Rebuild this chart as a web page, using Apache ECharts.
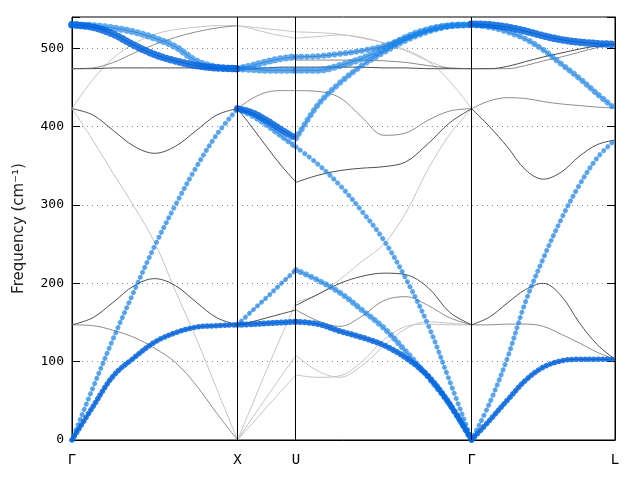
<!DOCTYPE html>
<html><head><meta charset="utf-8">
<script src="https://cdn.jsdelivr.net/npm/echarts@6/dist/echarts.min.js"></script>
<style>html,body{margin:0;padding:0;background:#fff}#c{width:640px;height:480px}</style>
</head><body><div id="c"></div>
<script>
// high-symmetry path (k-distance) and labels
const kLabels = ['Γ', 'X', 'U', 'Γ', 'L'];
const kTicks = [0, 1.0, 1.3536, 2.4142, 3.2802];
const yTicks = [0, 100, 200, 300, 400, 500];
// fractional sampling positions along a segment
const q9 = [0, .125, .25, .375, .5, .625, .75, .875, 1];
const q5 = [0, .25, .5, .75, 1];

// ---- Γ–X (cm^-1) ----
const gx_ta    = [0, 42, 82, 105, 125, 137, 144, 146, 147];
const gx_la    = [0, 66, 130, 190, 248, 300, 348, 390, 423];
const gx_f1    = [423, 383, 340, 298, 252, 190, 130, 65, 0];
const gx_f2    = [147, 146, 140, 131, 117, 99, 70, 34, 0];
const gx_o1    = [147, 156, 176, 197, 206, 197, 176, 156, 147];
const gx_o2    = [423, 415, 395, 375, 366, 375, 395, 415, 423];
const gx_o3    = [474, 474, 475, 475, 475, 475, 475, 474, 474];
const gx_o4    = [474, 475, 482, 494, 505, 514, 521, 526, 529];
const gx_o5    = [423, 460, 488, 506, 518, 524, 527, 529, 529];
const gx_t1    = [530, 527, 518, 504, 492, 484, 478, 475, 474];
const gx_t2    = [530, 529, 526, 521, 513, 502, 484, 476, 474];
// ---- X–U ----
const xu_a  = [0, 45, 90, 133, 176];
const xu_b  = [0, 28, 55, 82, 108];
const xu_c  = [0, 21, 42, 63, 83];
const xu_ta = [147, 148, 149, 150, 151];
const xu_d  = [147, 151, 156, 161, 166];
const xu_e  = [147, 165, 182, 200, 217];
const xu_f  = [423, 418, 408, 396, 385];
const xu_g  = [423, 414, 402, 388, 374];
const xu_h  = [423, 399, 374, 350, 329];
const xu_i  = [423, 436, 444, 446, 446];
const xu_j  = [474, 473, 472, 472, 472];
const xu_k  = [474, 474, 475, 476, 476];
const xu_l  = [474, 478, 483, 487, 489];
const xu_m  = [529, 527, 525, 523, 521];
const xu_n  = [529, 525, 520, 516, 513];
// ---- U–Γ ----
const ug_ta = [151, 148, 139, 131, 121, 105, 82, 46, 0];
const ug_b  = [217, 204, 188, 166, 143, 113, 81, 45, 0];
const ug_c  = [374, 352, 325, 292, 255, 206, 148, 75, 0];
const ug_d  = [385, 428, 456, 478, 495, 510, 521, 528, 530];
const ug_e  = [489, 490, 493, 497, 503, 513, 523, 529, 530];
const ug_f  = [472, 472, 478, 487, 499, 514, 524, 529, 530];
const ug_g  = [476, 476, 476, 476, 475, 475, 474, 474, 474];
const ug_h  = [485, 485, 485, 485, 484, 482, 478, 475, 474];
const ug_i  = [521, 520, 518, 513, 507, 498, 484, 458, 423];
const ug_j  = [513, 515, 517, 514, 507, 497, 484, 475, 474];
const ug_k  = [446, 445, 437, 412, 389, 392, 408, 420, 423];
const ug_l  = [329, 338, 344, 347, 349, 355, 378, 405, 423];
const ug_m  = [176, 186, 205, 228, 250, 290, 345, 390, 423];
const ug_n  = [172, 186, 200, 209, 213, 211, 195, 163, 147];
const ug_o  = [166, 152, 145, 158, 178, 183, 172, 156, 147];
const ug_p  = [108, 88, 80, 95, 120, 142, 151, 149, 147];
const ug_q  = [83, 80, 82, 100, 128, 145, 148, 147, 147];
// ---- Γ–L ----
const gl_ta = [0, 25, 51, 76, 93, 101, 103, 103, 103];
const gl_la = [0, 47, 105, 176, 232, 282, 325, 360, 383];
const gl_a  = [147, 157, 175, 192, 200, 184, 150, 122, 103];
const gl_b  = [147, 147, 148, 148, 145, 135, 124, 112, 103];
const gl_c  = [423, 433, 437, 436, 432, 429, 427, 425, 424];
const gl_d  = [423, 400, 374, 345, 333, 342, 362, 377, 383];
const gl_e  = [531, 530, 527, 522, 516, 511, 508, 506, 505];
const gl_f  = [530, 527, 521, 512, 498, 480, 462, 442, 423];
const gl_g  = [474, 474, 474, 478, 484, 489, 495, 501, 506];
const gl_h  = [474, 474, 477, 483, 489, 494, 499, 503, 505];

// layout: [values, segment, q, line tone, dot tone, dot size]
const layout = [
  [gx_ta,0,q9,'d','D',5.5],[gx_la,0,q9,'l','B',5],[gx_f1,0,q9,'l',null],[gx_f2,0,q9,'m',null],
  [gx_o1,0,q9,'d',null],[gx_o2,0,q9,'d',null],[gx_o3,0,q9,'d',null],[gx_o4,0,q9,'m',null],
  [gx_o5,0,q9,'l',null],[gx_t1,0,q9,'d','D',7.5],[gx_t2,0,q9,'m','B',7],
  [xu_a,1,q5,'l',null],[xu_b,1,q5,'l',null],[xu_c,1,q5,'l',null],[xu_ta,1,q5,'d','D',6],
  [xu_d,1,q5,'d',null],[xu_e,1,q5,'m','B',5],[xu_f,1,q5,'d','D',7],[xu_g,1,q5,'m','B',6],
  [xu_h,1,q5,'d',null],[xu_i,1,q5,'m',null],[xu_j,1,q5,'m','B',7],[xu_k,1,q5,'d',null],
  [xu_l,1,q5,'m','B',7],[xu_m,1,q5,'l',null],[xu_n,1,q5,'l',null],
  [ug_ta,2,q9,'d','D',6],[ug_b,2,q9,'m','B',6],[ug_c,2,q9,'l','B',5],[ug_d,2,q9,'m','B',6],
  [ug_e,2,q9,'m','B',6],[ug_f,2,q9,'m','B',7],[ug_g,2,q9,'d',null],[ug_h,2,q9,'m',null],
  [ug_i,2,q9,'l',null],[ug_j,2,q9,'l',null],[ug_k,2,q9,'m',null],[ug_l,2,q9,'d',null],
  [ug_m,2,q9,'l',null],[ug_n,2,q9,'d',null],[ug_o,2,q9,'m',null],[ug_p,2,q9,'l',null],[ug_q,2,q9,'l',null],
  [gl_ta,3,q9,'d','D',5.5],[gl_la,3,q9,'l','B',5],[gl_a,3,q9,'d',null],[gl_b,3,q9,'m',null],
  [gl_c,3,q9,'m',null],[gl_d,3,q9,'d',null],[gl_e,3,q9,'d','D',7.5],[gl_f,3,q9,'m','B',6],
  [gl_g,3,q9,'m',null],[gl_h,3,q9,'d',null]
];

const TONE = {l:'#c4c4c4', m:'#8c8c8c', d:'#4e4e4e'};
const DOT = {D:{c:'rgba(0,100,225,0.85)', gap:4.4}, B:{c:'rgba(20,130,235,0.68)', gap:5.5}};

function pts(v, seg, q){
  const a = kTicks[seg], b = kTicks[seg+1];
  return q.map((t,i)=>[a + t*(b-a), v[i]]);
}

const series = [];
['l','m','d'].forEach(tone=>{
  layout.filter(r=>r[3]===tone).forEach(r=>{
    series.push({type:'line', data:pts(r[0],r[1],r[2]), smooth:0.35, symbol:'none', silent:true,
      lineStyle:{color:TONE[tone], width:1}, z:2});
  });
});
['B','D'].forEach(dt=>{
  layout.filter(r=>r[4]===dt).forEach(r=>{
    series.push({type:'line', data:pts(r[0],r[1],r[2]), smooth:0.35, symbol:'none', silent:true,
      lineStyle:{color:DOT[dt].c, width:r[5], type:[0.01, DOT[dt].gap], cap:'round'}, z:3});
  });
});
series.push({type:'line', data:[], silent:true, z:5,
  markLine:{silent:true, symbol:['none','none'], label:{show:false}, animation:false,
    lineStyle:{color:'#000', width:1, type:'solid'},
    data:[{xAxis:kTicks[1]},{xAxis:kTicks[2]},{xAxis:kTicks[3]}]}});

const chart = echarts.init(document.getElementById('c'));
chart.setOption({
  animation:false,
  grid:{left:72, right:25, top:17, bottom:40, show:true, borderColor:'#000', borderWidth:1, backgroundColor:'transparent'},
  xAxis:{type:'value', min:kTicks[0], max:kTicks[4],
    axisLine:{show:true, lineStyle:{color:'#000'}}, axisTick:{show:false}, splitLine:{show:false},
    axisLabel:{customValues:kTicks, showMinLabel:true, showMaxLabel:true,
      formatter:v=>{const i=kTicks.findIndex(t=>Math.abs(t-v)<1e-6); return i>=0?kLabels[i]:'';},
      fontFamily:'DejaVu Sans Mono', fontSize:14, color:'#000', margin:13}},
  yAxis:[{type:'value', min:0, max:540, interval:100,
    name:'Frequency (cm⁻¹)', nameLocation:'middle', nameGap:45,
    nameTextStyle:{fontFamily:'DejaVu Sans', fontSize:15, color:'#222'},
    axisLine:{show:true, lineStyle:{color:'#000'}},
    axisTick:{show:true, inside:true, length:8, lineStyle:{color:'#000'}},
    axisLabel:{formatter:v=>yTicks.includes(v)?String(v):'', fontFamily:'DejaVu Sans Mono', fontSize:13, color:'#000', margin:8},
    splitLine:{show:true, lineStyle:{color:'#888', width:1, type:[1,4]}}},
   {type:'value', position:'right', min:0, max:540, interval:100,
    axisLine:{show:true, lineStyle:{color:'#000'}},
    axisTick:{show:true, inside:true, length:8, lineStyle:{color:'#000'}},
    axisLabel:{show:false}, splitLine:{show:false}}],
  series
});
</script></body></html>
